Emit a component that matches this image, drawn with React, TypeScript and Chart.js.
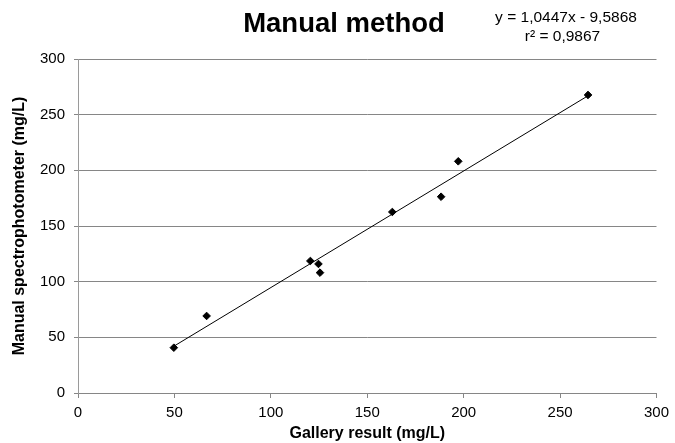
import React, { useEffect, useRef } from "react";
import { Chart, registerables } from "chart.js";

Chart.register(...registerables);

// ---- data ----
const galleryResult = [49.7, 66.7, 120.5, 124.7, 125.5, 163, 188.3, 197.2, 264.5];
const manualResult = [40.7, 69.2, 118.6, 115.9, 108.1, 162.6, 176.3, 208.1, 267.7];
const trendX = [49.7, 264.5];
const trendY = [42, 267];
const xTickValues = [0, 50, 100, 150, 200, 250, 300];
const yTickValues = [0, 50, 100, 150, 200, 250, 300];
const titleText = "Manual method";
const equationLines = ["y = 1,0447x - 9,5868", "r\u00B2 = 0,9867"];
const xTitle = "Gallery result (mg/L)";
const yTitle = "Manual spectrophotometer (mg/L)";

const FONT = "'Liberation Sans', Arial, sans-serif";
const GRID = "#868686";

const textPlugin = {
  id: "headerTexts",
  afterDraw(chart: any) {
    const ctx = chart.ctx;
    ctx.save();
    ctx.fillStyle = "#000";
    ctx.textAlign = "center";
    ctx.textBaseline = "middle";
    ctx.font = `bold 27.5px ${FONT}`;
    ctx.fillText(titleText, 344, 24);
    ctx.font = `15.5px ${FONT}`;
    ctx.fillText(equationLines[0], 566, 18);
    ctx.fillText(equationLines[1], 562.5, 36.5);
    ctx.restore();
  },
};

export default function App() {
  const canvasRef = useRef<HTMLCanvasElement | null>(null);

  useEffect(() => {
    const canvas = canvasRef.current;
    if (!canvas) return;
    const chart = new Chart(canvas, {
      type: "scatter",
      data: {
        datasets: [
          {
            type: "line",
            data: trendX.map((x, i) => ({ x, y: trendY[i] })),
            borderColor: "#000",
            borderWidth: 1,
            pointRadius: 0,
            fill: false,
          } as any,
          {
            data: galleryResult.map((x, i) => ({ x, y: manualResult[i] })),
            pointStyle: "rectRot",
            pointRadius: 3.8,
            backgroundColor: "#000",
            borderColor: "#000",
            borderWidth: 1,
          },
        ],
      },
      plugins: [textPlugin],
      options: {
        responsive: false,
        animation: false,
        layout: { padding: { top: 59, right: 17, left: 0, bottom: 0 } },
        plugins: {
          legend: { display: false },
          tooltip: { enabled: false },
          title: { display: false },
        },
        scales: {
          x: {
            type: "linear",
            min: 0,
            max: 300,
            afterFit: (s: any) => {
              s.height = 50;
            },
            afterBuildTicks: (s: any) => {
              s.ticks = xTickValues.map((v) => ({ value: v }));
            },
            grid: {
              drawOnChartArea: false,
              drawTicks: true,
              tickLength: 5,
              color: GRID,
            },
            border: { color: GRID, width: 1 },
            ticks: {
              padding: 6,
              color: "#000",
              font: { family: FONT, size: 15 },
              maxRotation: 0,
            },
            title: {
              display: true,
              text: xTitle,
              color: "#000",
              font: { family: FONT, size: 16, weight: "bold" },
              padding: { top: 0, bottom: 0 },
            },
          },
          y: {
            type: "linear",
            min: 0,
            max: 300,
            afterFit: (s: any) => {
              s.width = 78;
            },
            afterBuildTicks: (s: any) => {
              s.ticks = yTickValues.map((v) => ({ value: v }));
            },
            grid: {
              drawOnChartArea: true,
              drawTicks: true,
              tickLength: 4,
              color: GRID,
            },
            border: { color: "#9a9a9a", width: 1 },
            ticks: {
              padding: 9,
              color: "#000",
              font: { family: FONT, size: 15 },
            },
            title: {
              display: true,
              text: yTitle,
              color: "#000",
              font: { family: FONT, size: 16, weight: "bold" },
              padding: { top: 10, bottom: 0 },
            },
          },
        },
      },
    });
    return () => chart.destroy();
  }, []);

  return (
    <div style={{ position: "absolute", left: 0, top: 0, width: 675, height: 443, background: "#fff" }}>
      <canvas ref={canvasRef} width={675} height={443} style={{ display: "block" }} />
    </div>
  );
}
